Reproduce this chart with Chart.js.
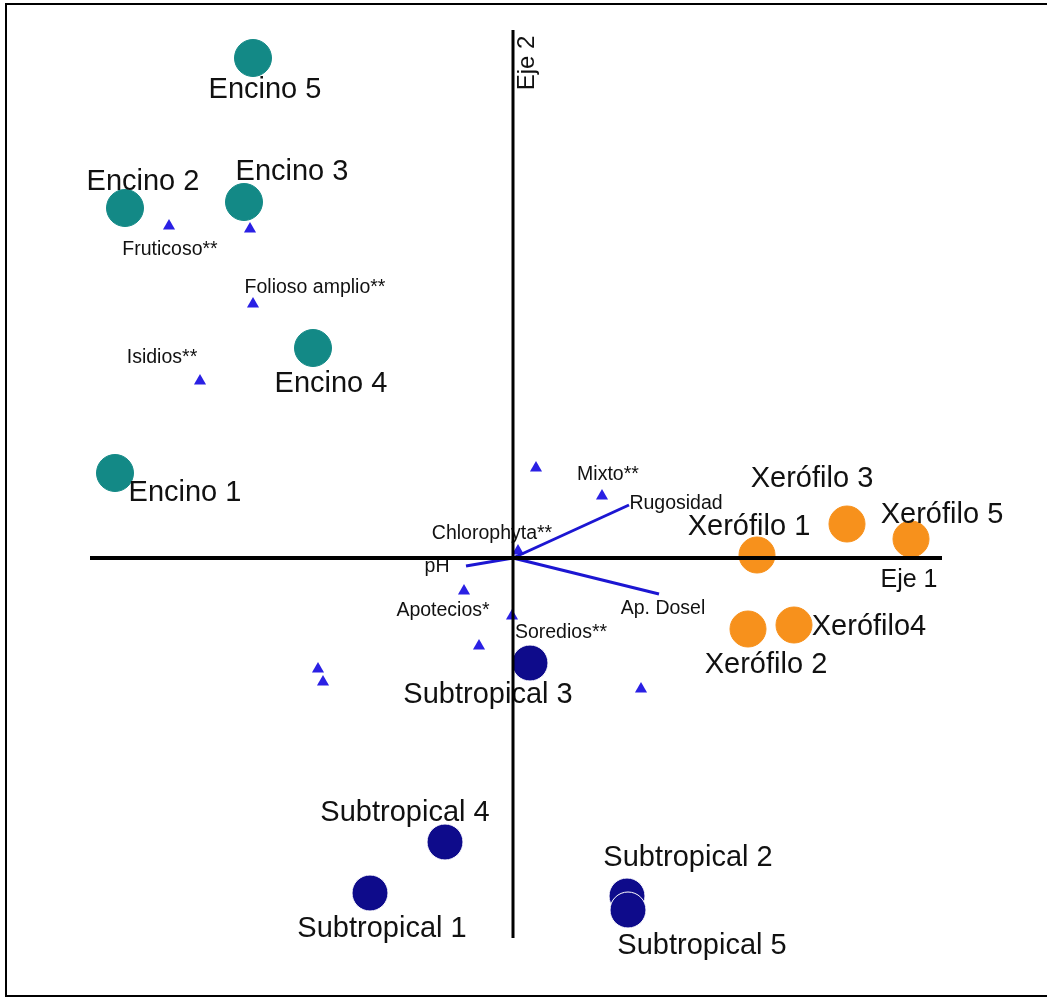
<!DOCTYPE html>
<html>
<head>
<meta charset="utf-8">
<title>Ordenación de sitios</title>
<script src="https://cdn.jsdelivr.net/npm/chart.js@4.4.1/dist/chart.umd.min.js"></script>
<style>
  html, body { margin: 0; padding: 0; background: #fff; }
  #wrap { width: 1047px; height: 998px; }
</style>
</head>
<body>
<div id="wrap"><canvas id="biplot" width="1047" height="998"></canvas></div>
<script>
  // --- scores (axis units: origin at the crossing) ---
  const encinoNames = ['Encino 1', 'Encino 2', 'Encino 3', 'Encino 4', 'Encino 5'];
  const encinoX = [-3.98, -3.88, -2.69, -2.00, -2.60];
  const encinoY = [0.85, 3.50, 3.56, 2.10, 5.00];

  const xerofiloNames = ['Xerófilo 1', 'Xerófilo 2', 'Xerófilo 3', 'Xerófilo4', 'Xerófilo 5'];
  const xerofiloX = [2.44, 2.35, 3.34, 2.81, 3.98];
  const xerofiloY = [0.03, -0.71, 0.34, -0.67, 0.19];

  const subtropNames = ['Subtropical 1', 'Subtropical 2', 'Subtropical 3', 'Subtropical 4', 'Subtropical 5'];
  const subtropX = [-1.43, 1.14, 0.17, -0.68, 1.15];
  const subtropY = [-3.35, -3.38, -1.05, -2.84, -3.52];

  const speciesNames = ['Fruticoso**', '', 'Folioso amplio**', 'Isidios**', '', 'Mixto**',
                        'Chlorophyta**', 'Apotecios*', 'Soredios**', '', '', '', ''];
  const speciesX = [-3.44, -2.63, -2.60, -3.13, 0.23, 0.89, 0.05, -0.49, -0.01, -0.34, -1.95, -1.90, 1.28];
  const speciesY = [3.32, 3.29, 2.54, 1.77, 0.90, 0.62, 0.07, -0.33, -0.58, -0.88, -1.11, -1.24, -1.31];

  const vectorNames = ['Rugosidad', 'pH', 'Ap. Dosel'];
  const vectorX = [1.16, -0.47, 1.46];
  const vectorY = [0.53, -0.08, -0.36];

  const axis1Range = [-4.23, 4.29];
  const axis2Range = [-3.80, 5.28];
  const axisTitles = ['Eje 1', 'Eje 2'];

  // label placement (pixel offsets from the mark)
  const encinoLabelOff   = [[70, 20], [18, -26], [48, -30], [18, 36], [12, 32]];
  const xerofiloLabelOff = [[-8, -28], [18, 36], [-35, -45], [75, 2], [31, -24]];
  const subtropLabelOff  = [[12, 36], [61, -38], [-42, 32], [-40, -29], [74, 36]];
  const speciesLabelOff  = [[1, 24], [0, 0], [62, -16], [-38, -23], [0, 0], [6, -21],
                            [-26, -17], [-21, 20], [49, 17], [0, 0], [0, 0], [0, 0], [0, 0]];
  const vectorLabelOff   = [[47, -1], [-29, 1], [4, 15]];

  const FONT = '"Liberation Sans", Arial, Helvetica, sans-serif';
  const C = {
    encino: '#138986',
    xerofilo: '#f7911c',
    subtrop: '#0e0b8b',
    species: '#2a20e4',
    vector: '#1c16d2',
    axis: '#000000',
    text: '#111111',
  };

  const pts = (xs, ys) => xs.map((x, i) => ({ x, y: ys[i] }));

  const vectorSets = vectorNames.map((name, i) => ({
    label: name,
    data: [{ x: 0, y: 0 }, { x: vectorX[i], y: vectorY[i] }],
    showLine: true, borderColor: C.vector, borderWidth: 3,
    pointRadius: 0, order: 2,
  }));

  const labelGroups = {
    Encino:      { names: encinoNames, off: encinoLabelOff, size: 29 },
    'Xerófilo':  { names: xerofiloNames, off: xerofiloLabelOff, size: 29 },
    Subtropical: { names: subtropNames, off: subtropLabelOff, size: 29 },
    Especies:    { names: speciesNames, off: speciesLabelOff, size: 19.5 },
  };

  const labelPlugin = {
    id: 'pointLabels',
    afterDatasetDraw(chart, args) {
      const ds = chart.data.datasets[args.index];
      const ctx = chart.ctx;
      ctx.save();
      ctx.fillStyle = C.text;
      ctx.textAlign = 'center';
      ctx.textBaseline = 'middle';
      const g = labelGroups[ds.label];
      if (g) {
        ctx.font = g.size + 'px ' + FONT;
        args.meta.data.forEach((el, i) => {
          if (!g.names[i]) return;
          ctx.fillText(g.names[i], el.x + g.off[i][0], el.y + g.off[i][1]);
        });
      }
      const vi = vectorNames.indexOf(ds.label);
      if (vi >= 0) {
        const tip = args.meta.data[1];
        ctx.font = '19.5px ' + FONT;
        ctx.fillText(vectorNames[vi], tip.x + vectorLabelOff[vi][0], tip.y + vectorLabelOff[vi][1]);
      }
      ctx.restore();
    },
    afterDatasetsDraw(chart) {
      const { ctx, scales: { x, y } } = chart;
      ctx.save();
      ctx.fillStyle = C.text;
      ctx.textAlign = 'center';
      ctx.textBaseline = 'middle';
      ctx.font = '25px ' + FONT;
      ctx.fillText(axisTitles[0], x.getPixelForValue(axis1Range[1]) - 33, y.getPixelForValue(0) + 22);
      ctx.translate(x.getPixelForValue(0) + 14, y.getPixelForValue(axis2Range[1]) + 33);
      ctx.rotate(-Math.PI / 2);
      ctx.font = '24px ' + FONT;
      ctx.fillText(axisTitles[1], 0, 0);
      ctx.restore();
      // frame
      ctx.save();
      ctx.strokeStyle = '#000';
      ctx.lineWidth = 2;
      ctx.strokeRect(6, 4, 1060, 992);
      ctx.restore();
    },
  };

  new Chart(document.getElementById('biplot').getContext('2d'), {
    type: 'scatter',
    data: {
      datasets: [
        { label: 'Eje1', data: [{ x: axis1Range[0], y: 0 }, { x: axis1Range[1], y: 0 }],
          showLine: true, borderColor: C.axis, borderWidth: 4, pointRadius: 0, order: 0 },
        { label: 'Eje2', data: [{ x: 0, y: axis2Range[0] }, { x: 0, y: axis2Range[1] }],
          showLine: true, borderColor: C.axis, borderWidth: 3, pointRadius: 0, order: 0 },
        ...vectorSets,
        { label: 'Especies', data: pts(speciesX, speciesY), pointStyle: 'triangle',
          pointRadius: 7, backgroundColor: C.species, borderColor: C.species, borderWidth: 0, order: 3 },
        { label: 'Encino', data: pts(encinoX, encinoY), pointRadius: 18.5,
          backgroundColor: C.encino, borderColor: C.encino, borderWidth: 1, order: 4 },
        { label: 'Xerófilo', data: pts(xerofiloX, xerofiloY), pointRadius: 18,
          backgroundColor: C.xerofilo, borderColor: C.xerofilo, borderWidth: 1, order: 4 },
        { label: 'Subtropical', data: pts(subtropX, subtropY), pointRadius: 18,
          backgroundColor: C.subtrop, borderColor: '#ffffff', borderWidth: 1, order: 4 },
      ],
    },
    options: {
      responsive: false,
      animation: false,
      layout: { padding: 0, autoPadding: false },
      plugins: { legend: { display: false }, tooltip: { enabled: false } },
      scales: {
        x: { type: 'linear', display: false, min: -5.13, max: 5.34 },
        y: { type: 'linear', display: false, min: -4.40, max: 5.58 },
      },
    },
    plugins: [labelPlugin],
  });
</script>
</body>
</html>
